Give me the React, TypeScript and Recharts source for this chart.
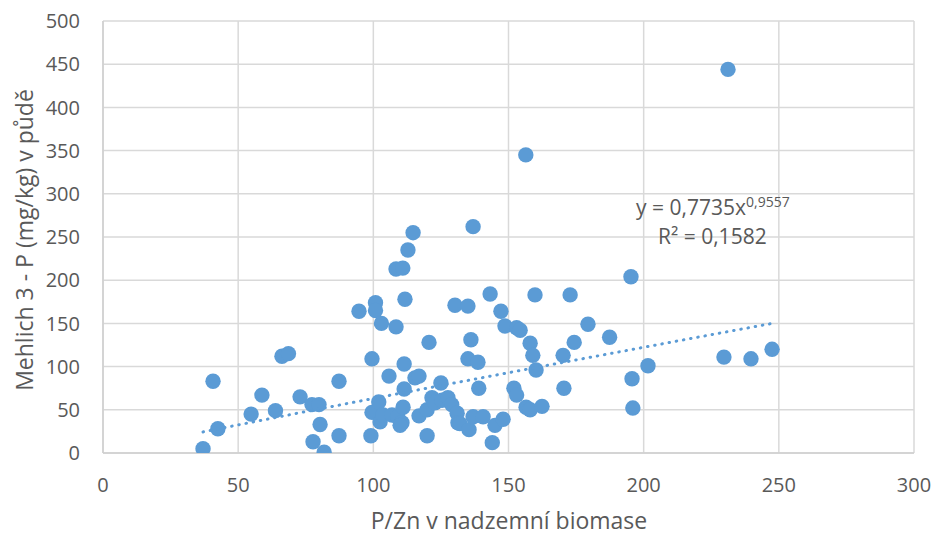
import React from 'react';
import { ScatterChart, Scatter, XAxis, YAxis, CartesianGrid } from 'recharts';

// P/Zn v nadzemní biomase (x) and Mehlich 3 - P v půdě (y)
const pznValues = [
  37, 40.7, 42.5, 54.8, 58.8, 63.8, 66.2, 68.6, 72.9, 77.3, 77.7, 79.9, 80.3, 81.8, 87.3, 87.3,
  94.7, 99.1, 99.5, 100.8, 100.8, 103, 99.5, 102, 102.5, 103.6, 106.9, 105.8, 108.4, 110.9,
  112.8, 114.7, 111.7, 108.4, 111.4, 111.4, 109, 111, 110.6, 109.9, 115.4, 116.9, 116.9, 119.9,
  121.7, 122.8, 119.9, 120.6, 125, 125.4, 127.6, 129, 131, 131.3, 132, 135.4, 136.9, 140.6,
  130.2, 135, 136.1, 135, 138.7, 139, 136.9, 143.2, 147.2, 148.7, 153, 154.3, 158, 159, 160.2,
  152, 153, 156.5, 158, 162.4, 144, 145, 148, 159.8, 172.8, 179.4, 187.4, 174.3, 170.2, 170.5,
  195.3, 195.7, 196, 201.6, 229.7, 239.7, 247.5, 231.2, 156.4,
];
const pSoilValues = [
  5, 83, 28, 45, 67, 49, 112, 115, 65, 56, 13, 56, 33, 1, 20, 83,
  164, 20, 109, 174, 165, 150, 47, 59, 36, 44, 44, 89, 213, 214,
  235, 255, 178, 146, 103, 74, 42, 53, 35, 32, 87, 89, 43, 50,
  64, 58, 20, 128, 81, 61, 64, 56, 46, 35, 34, 27, 42, 42,
  171, 170, 131, 109, 105, 75, 262, 184, 164, 147, 145, 142, 127, 113, 96,
  75, 67, 53, 50, 54, 12, 32, 39, 183, 183, 149, 134, 128, 113, 75,
  204, 86, 52, 101, 111, 109, 120, 444, 345,
];

const xTicks = [0, 50, 100, 150, 200, 250, 300];
const yTicks = [0, 50, 100, 150, 200, 250, 300, 350, 400, 450, 500];

// Power trendline shown on the chart: y = 0,7735x^0,9557
const trendA = 0.7735;
const trendB = 0.9557;
const trendFrom = 37;
const trendTo = 247.5;

const points = pznValues.map((x, i) => ({ x, y: pSoilValues[i] }));
const trendSteps = 40;
const trend = Array.from({ length: trendSteps + 1 }, (_, i) => {
  const x = trendFrom + ((trendTo - trendFrom) * i) / trendSteps;
  return { x, y: trendA * Math.pow(x, trendB) };
});

const BLUE = '#5B9BD5';
const TEXT = '#595959';
const FONT = '"Open Sans", sans-serif';

const Dot = (p: any) => <circle cx={p.cx} cy={p.cy} r={7.7} fill={BLUE} />;

export default function App() {
  return (
    <div style={{ position: 'absolute', left: 0, top: 0, width: 935, height: 535, background: '#fff' }}>
      <ScatterChart width={935} height={535} margin={{ top: 21, right: 21, bottom: 0, left: 0 }}>
        <CartesianGrid stroke="#d9d9d9" strokeWidth={1.5} />
        <XAxis
          type="number"
          dataKey="x"
          domain={[0, 300]}
          ticks={xTicks}
          height={82}
          tickLine={false}
          tickSize={6}
          tickMargin={19}
          axisLine={{ stroke: '#cfcfcf', strokeWidth: 1.5 }}
          tick={{ fill: TEXT, fontSize: 20, fontFamily: FONT }}
          allowDataOverflow
        />
        <YAxis
          type="number"
          dataKey="y"
          domain={[0, 500]}
          ticks={yTicks}
          width={103}
          tickLine={false}
          tickSize={6}
          tickMargin={17}
          axisLine={{ stroke: '#cfcfcf', strokeWidth: 1.5 }}
          tick={{ fill: TEXT, fontSize: 20, fontFamily: FONT }}
          allowDataOverflow
        />
        <Scatter data={points} fill={BLUE} shape={Dot} isAnimationActive={false} />
        <Scatter
          data={trend}
          fill="none"
          line={{ stroke: BLUE, strokeWidth: 3, strokeDasharray: '0.5 6.8', strokeLinecap: 'round' }}
          shape={() => null}
          isAnimationActive={false}
        />
      </ScatterChart>
      <svg width={935} height={535} style={{ position: 'absolute', left: 0, top: 0, pointerEvents: 'none' }}>
        <text x={636} y={215} fill={TEXT} fontSize={21} fontFamily={FONT}>
          y = 0,7735x
        </text>
        <text x={746} y={207} fill={TEXT} fontSize={14} fontFamily={FONT}>
          0,9557
        </text>
        <text x={658} y={244} fill={TEXT} fontSize={21} fontFamily={FONT}>
          R² = 0,1582
        </text>
        <text x={509} y={529} fill={TEXT} fontSize={23} fontFamily={FONT} textAnchor="middle">
          P/Zn v nadzemní biomase
        </text>
        <text
          x={33}
          y={240}
          fill={TEXT}
          fontSize={23}
          fontFamily={FONT}
          textAnchor="middle"
          transform="rotate(-90, 33, 240)"
        >
          Mehlich 3 - P (mg/kg) v půdě
        </text>
      </svg>
    </div>
  );
}
